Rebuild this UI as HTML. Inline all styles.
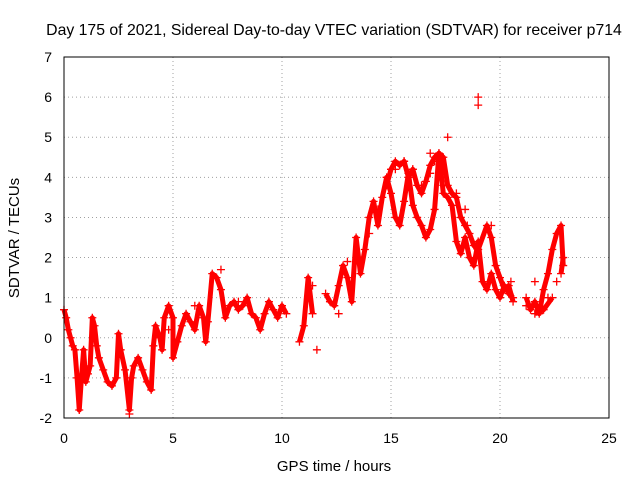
<!DOCTYPE html>
<html><head><meta charset="utf-8"><style>
body{margin:0;background:#fff;font-family:"Liberation Sans",sans-serif}
svg text{font-family:"Liberation Sans",sans-serif;font-size:14px;fill:#000}
</style></head><body>
<svg id="c" width="640" height="480">
<text x="334" y="35" text-anchor="middle" style="font-size:15.8px">Day 175 of 2021, Sidereal Day-to-day VTEC variation (SDTVAR) for receiver p714</text>
<text x="334" y="471" text-anchor="middle" style="font-size:15px">GPS time / hours</text>
<text transform="translate(19,238) rotate(-90)" text-anchor="middle" style="font-size:15px">SDTVAR / TECUs</text>
<g id="grid"></g><g id="marks"></g>
<rect x="64" y="57" width="545" height="361" fill="none" stroke="#000"/>
</svg>
<script>
const xTicks=[0,5,10,15,20,25];
const yTicks=[-2,-1,0,1,2,3,4,5,6,7];
const mainT=[0,0.1,0.2,0.3,0.4,0.5,0.6,0.7,0.8,0.9,1.0,1.1,1.2,1.3,1.4,1.5,1.6,1.8,2.0,2.2,2.4,2.5,2.6,2.8,3.0,3.1,3.2,3.4,3.6,3.8,4.0,4.1,4.2,4.4,4.5,4.6,4.8,5.0,5.0,5.2,5.4,5.6,5.8,6.0,6.2,6.4,6.5,6.6,6.8,7.0,7.2,7.4,7.6,7.8,8.0,8.2,8.4,8.6,8.8,9.0,9.2,9.4,9.6,9.8,10.0,10.2,10.8,11.0,11.2,11.4,12.0,12.2,12.4,12.6,12.8,13.0,13.2,13.4,13.6,13.8,14.0,14.2,14.4,14.6,14.8,15.0,15.2,15.4,15.6,15.8,16.0,16.2,16.4,16.6,16.8,17.0,17.2,17.4,17.6,17.8,18.0,18.2,18.4,18.6,18.8,19.0,19.2,19.4,19.6,19.8,20.0,20.2,20.4,20.6,21.2,21.4,21.6,21.8,22.0,22.2,22.4,22.6,22.8,22.9];
const mainV=[0.7,0.5,0.2,0.0,-0.2,-0.3,-1.0,-1.8,-1.0,-0.3,-1.1,-0.9,-0.7,0.5,0.3,-0.2,-0.5,-0.8,-1.1,-1.2,-1.0,0.1,-0.3,-0.8,-1.8,-1.0,-0.7,-0.5,-0.8,-1.1,-1.3,-0.2,0.3,0.0,-0.3,0.5,0.8,0.5,-0.5,-0.1,0.3,0.6,0.4,0.2,0.8,0.5,-0.1,0.4,1.6,1.5,1.2,0.5,0.8,0.9,0.7,0.8,1.0,0.6,0.5,0.2,0.6,0.9,0.7,0.5,0.8,0.6,-0.1,0.3,1.5,0.6,1.1,0.9,0.8,1.3,1.8,1.5,0.9,2.5,1.6,2.2,3.0,3.4,2.8,3.5,4.0,3.6,3.0,2.8,3.4,4.1,3.3,3.0,2.8,2.5,2.7,3.2,4.6,3.6,3.5,3.3,2.4,2.1,2.5,2.0,1.8,2.4,1.4,1.2,1.6,1.2,1.0,1.3,1.1,1.0,1.0,0.7,0.9,0.6,1.2,1.6,2.2,2.6,2.8,1.8];
const bandT=[14.8,15.0,15.2,15.4,15.6,15.8,16.0,16.2,16.4,16.6,16.8,17.0,17.2,17.4,17.6,17.8,18.0,18.2,18.4,18.6,18.8,19.0,19.4,19.6,19.8,20.0,20.2,20.4,20.6,21.2,21.6,22.0,22.4,22.8,22.9];
const bandV=[3.8,4.2,4.4,4.3,4.4,4.0,4.2,3.8,3.6,3.9,4.3,4.5,4.6,4.5,3.8,3.6,3.5,3.0,2.8,2.6,2.3,2.2,2.8,2.5,1.8,1.5,1.2,1.3,0.9,0.8,0.6,0.7,1.0,1.6,2.0];
const extraT=[15.2,15.6,16.0,16.4,16.8,17.0,17.4,18.0,18.4,19.0,19.0,18.5,17.6,16.8,19.6,20.5,21.6,22.2,22.6,13.0,12.6,14.0,14.4,11.4,7.2,8.0,6.0,4.8,11.6,3.0];
const extraV=[4.2,4.4,4.2,3.8,4.1,4.4,3.8,3.6,3.2,6.0,5.8,2.8,5.0,4.6,2.8,1.4,1.4,1.0,1.4,1.9,0.6,2.6,3.2,1.3,1.7,0.9,0.8,0.2,-0.3,-1.9];
const X=v=>64+v*545/25, Y=v=>418-(v+2)*361/9;
const NS="http://www.w3.org/2000/svg";
const grid=document.getElementById('grid'), marks=document.getElementById('marks'), svg=document.getElementById('c');
function mk(tag,attrs,parent){const e=document.createElementNS(NS,tag);for(const k in attrs)e.setAttribute(k,attrs[k]);parent.appendChild(e);return e;}
xTicks.forEach(t=>{
  const l=mk('line',{x1:X(t),x2:X(t),y1:57,y2:418,stroke:'#a0a0a0','stroke-dasharray':'1,3'},grid);
  
  
  const tx=mk('text',{x:X(t),y:443,'text-anchor':'middle'},svg);tx.textContent=t;
  
  
});
yTicks.forEach(t=>{
  const l=mk('line',{x1:64,x2:609,y1:Y(t),y2:Y(t),stroke:'#a0a0a0','stroke-dasharray':'1,3'},grid);
  
  
  const tx=mk('text',{x:52,y:Y(t)+5,'text-anchor':'end'},svg);tx.textContent=t;
  
  
});
function trace(T,V,name){
  let d='';
  T.forEach((t,i)=>{d+=(i&&t-T[i-1]<0.4?'L':'M')+X(t)+','+Y(V[i]);});
  const pl=mk('path',{d:d,fill:'none',stroke:'#f00','stroke-width':5,'stroke-linejoin':'round'},marks);
  
  
}
trace(mainT,mainV,'sdtvar-trace');
trace(bandT,bandV,'sdtvar-upper-band');
function plus(t,v){
  const x=X(t),y=Y(v);
  const p=mk('path',{d:`M${x-4},${y}h8M${x},${y-4}v8`,stroke:'#f00','stroke-width':1.3},marks);
  
  
}
mainT.forEach((t,i)=>plus(t,mainV[i]));
bandT.forEach((t,i)=>plus(t,bandV[i]));
extraT.forEach((t,i)=>plus(t,extraV[i]));
</script>
</body></html>
